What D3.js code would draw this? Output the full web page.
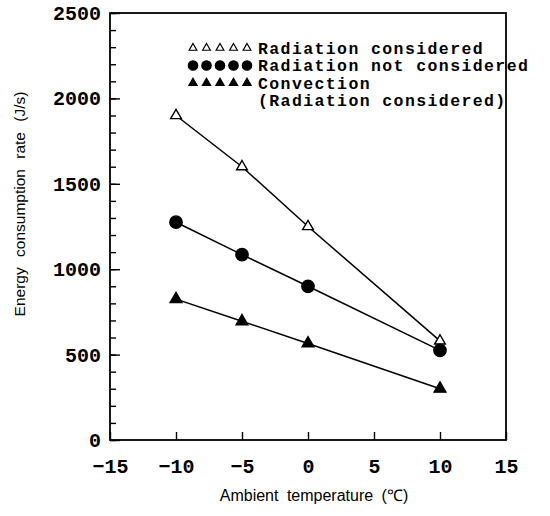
<!DOCTYPE html>
<html>
<head>
<meta charset="utf-8">
<script src="https://cdn.jsdelivr.net/npm/d3@7"></script>
<style>
  body { margin: 0; background: #fff; }
  svg { display: block; }
</style>
</head>
<body>
<script>
// Data
var temps = [-10, -5, 0, 10];
var radConsidered = [1900, 1600, 1250, 580];
var radNotConsidered = [1275, 1085, 900, 525];
var convection = [825, 695, 565, 300];
var xTicks = [-15, -10, -5, 0, 5, 10, 15];
var yTicks = [0, 500, 1000, 1500, 2000, 2500];
var seriesNames = ["Radiation considered", "Radiation not considered", "Convection"];

var W = 550, H = 516;
var margin = {top: 13, right: 44, bottom: 76, left: 110};
var width = W - margin.left - margin.right;
var height = H - margin.top - margin.bottom;

var svg = d3.select("body").append("svg")
    .attr("width", W)
    .attr("height", H);

var g = svg.append("g")
    .attr("transform", "translate(" + margin.left + "," + margin.top + ")");

var x = d3.scaleLinear().domain([-15, 15]).range([0, width]);
var y = d3.scaleLinear().domain([0, 2500]).range([height, 0]);

var tickFont = "'Liberation Mono', 'Courier New', monospace";

// frame
g.append("rect")
    .attr("width", width)
    .attr("height", height)
    .attr("fill", "none")
    .attr("stroke", "#000")
    .attr("stroke-width", 1.8);

// y minor ticks (inward)
g.append("g")
    .call(d3.axisRight(y).tickValues(d3.range(0, 2501, 100)).tickSize(6).tickFormat(""))
    .call(s => s.select(".domain").remove())
    .selectAll("line").attr("stroke-width", 1.4);

// y major ticks + labels
var yAxis = g.append("g")
    .call(d3.axisLeft(y).tickValues(yTicks).tickSize(-10).tickPadding(9).tickFormat(d3.format("d")));
yAxis.select(".domain").remove();
yAxis.selectAll("line").attr("stroke-width", 1.4);
yAxis.selectAll("text")
    .attr("font-family", tickFont)
    .attr("font-weight", "bold")
    .attr("font-size", 20)
    .attr("fill", "#000");

// x ticks (inward) + labels
var xAxis = g.append("g")
    .attr("transform", "translate(0," + height + ")")
    .call(d3.axisBottom(x).tickValues(xTicks).tickSize(-8).tickPadding(19).tickFormat(d => d < 0 ? "\u2212" + Math.abs(d) : d));
xAxis.select(".domain").remove();
xAxis.selectAll("line").attr("stroke-width", 1.4);
xAxis.selectAll("text")
    .attr("font-family", tickFont)
    .attr("font-weight", "bold")
    .attr("font-size", 20)
    .attr("fill", "#000");

// axis titles
svg.append("text")
    .attr("x", margin.left + width / 2 + 6)
    .attr("y", 501)
    .attr("text-anchor", "middle")
    .attr("font-family", "'Liberation Sans', Arial, sans-serif")
    .attr("font-size", 16)
    .attr("word-spacing", 4)
    .text("Ambient temperature (\u2103)");

svg.append("text")
    .attr("transform", "translate(25,204) rotate(-90)")
    .attr("text-anchor", "middle")
    .attr("font-family", "'Liberation Sans', Arial, sans-serif")
    .attr("font-size", 15.5)
    .attr("word-spacing", 6)
    .text("Energy consumption rate (J/s)");

// series
var triOpen = d3.symbol().type(d3.symbolTriangle).size(50);
var triFill = d3.symbol().type(d3.symbolTriangle).size(60);
var circ = d3.symbol().type(d3.symbolCircle).size(120);

var series = [
    {vals: radConsidered, sym: triOpen, fill: "#fff"},
    {vals: radNotConsidered, sym: circ, fill: "#000"},
    {vals: convection, sym: triFill, fill: "#000"}
];

var line = d3.line()
    .x(function(d) { return x(d[0]); })
    .y(function(d) { return y(d[1]); });

series.forEach(function(s) {
    var pts = temps.map(function(t, i) { return [t, s.vals[i]]; });
    g.append("path")
        .attr("d", line(pts))
        .attr("fill", "none")
        .attr("stroke", "#000")
        .attr("stroke-width", 1.5);
});

series.forEach(function(s) {
    var pts = temps.map(function(t, i) { return [t, s.vals[i]]; });
    g.selectAll(null)
        .data(pts)
        .enter()
        .append("path")
            .attr("d", s.sym())
            .attr("transform", function(d) { return "translate(" + x(d[0]) + "," + y(d[1]) + ")"; })
            .attr("fill", s.fill)
            .attr("stroke", "#000")
            .attr("stroke-width", 1.4);
});

// legend
var legX = 193, legY = 48, legDy = 17.5;
var legFont = 16.5;
var legSyms = [
    d3.symbol().type(d3.symbolTriangle).size(26),
    d3.symbol().type(d3.symbolCircle).size(70),
    d3.symbol().type(d3.symbolTriangle).size(30)
];
series.forEach(function(s, k) {
    var row = svg.append("g").attr("transform", "translate(" + legX + "," + (legY + k * legDy) + ")");
    row.selectAll("path")
        .data(d3.range(5))
        .enter()
        .append("path")
            .attr("d", legSyms[k]())
            .attr("transform", function(i) { return "translate(" + (i * 13.5) + ",0)"; })
            .attr("fill", s.fill)
            .attr("stroke", "#000")
            .attr("stroke-width", 1.2);
    row.append("text")
        .attr("x", 65)
        .attr("y", 5.5)
        .attr("font-family", tickFont)
        .attr("font-weight", "bold")
        .attr("font-size", legFont)
        .attr("letter-spacing", 1.4)
        .text(seriesNames[k]);
});
// second line of the convection label
svg.append("text")
    .attr("x", legX + 65)
    .attr("y", legY + 3 * legDy + 5.5)
    .attr("font-family", tickFont)
    .attr("font-weight", "bold")
    .attr("font-size", legFont)
    .attr("letter-spacing", 1.4)
    .text("(Radiation considered)");
</script>
</body>
</html>
